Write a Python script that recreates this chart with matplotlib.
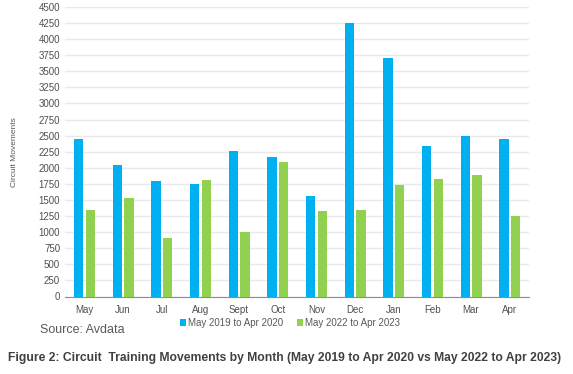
import matplotlib.pyplot as plt
import numpy as np

plt.rcParams['font.family'] = ['Liberation Sans', 'DejaVu Sans']

months = ['May', 'Jun', 'Jul', 'Aug', 'Sept', 'Oct', 'Nov', 'Dec', 'Jan', 'Feb', 'Mar', 'Apr']
serie_2019 = [2450, 2050, 1800, 1745, 2265, 2165, 1565, 4255, 3710, 2340, 2490, 2445]
serie_2022 = [1345, 1525, 905, 1815, 995, 2090, 1330, 1340, 1735, 1820, 1885, 1250]
label_2019 = 'May 2019 to Apr 2020'
label_2022 = 'May 2022 to Apr 2023'

azul = '#00B0F0'
verde = '#92D050'

fig = plt.figure(figsize=(5.73, 3.74), dpi=100)
ax = fig.add_axes([65 / 573, 1 - 296.5 / 374, 464 / 573, 289.5 / 374])

x = np.arange(len(months))
ancho = 0.24
ax.bar(x - 0.145, serie_2019, ancho, color=azul, label=label_2019, zorder=3)
ax.bar(x + 0.155, serie_2022, ancho, color=verde, label=label_2022, zorder=3)

ax.set_xlim(-0.5, len(months) - 0.5)
ax.set_ylim(0, 4500)
ax.set_yticks(np.arange(0, 4501, 250))
ax.set_xticks(x)
ax.set_xticklabels(months)
ax.tick_params(axis='both', length=0, labelsize=7, colors='#505050')
ax.tick_params(axis='x', pad=6)
ax.grid(axis='y', color='#E6E9ED', linewidth=1, zorder=0)
for lado in ['top', 'right', 'left']:
    ax.spines[lado].set_visible(False)
ax.spines['bottom'].set_color('#8C8C8C')

fig.text(15 / 573, 1 - 152 / 374, 'Circuit Movements', rotation=90, fontsize=6,
         color='#595959', ha='center', va='center')

fig.legend(loc='center', bbox_to_anchor=(290 / 573, 1 - 323 / 374), ncol=2, frameon=False,
           fontsize=7, handlelength=0.6, handleheight=0.6, handletextpad=0.2,
           columnspacing=1.5, labelcolor='#595959')

fig.text(40 / 573, 1 - 330 / 374, 'Source: Avdata', fontsize=9, color='#595959',
         ha='left', va='center')
fig.text(8 / 573, 1 - 358 / 374,
         'Figure 2: Circuit  Training Movements by Month (May 2019 to Apr 2020 vs May 2022 to Apr 2023)',
         fontsize=8.75, fontweight='bold', color='#404040', ha='left', va='center')

fig.savefig('out.png', dpi=100)
